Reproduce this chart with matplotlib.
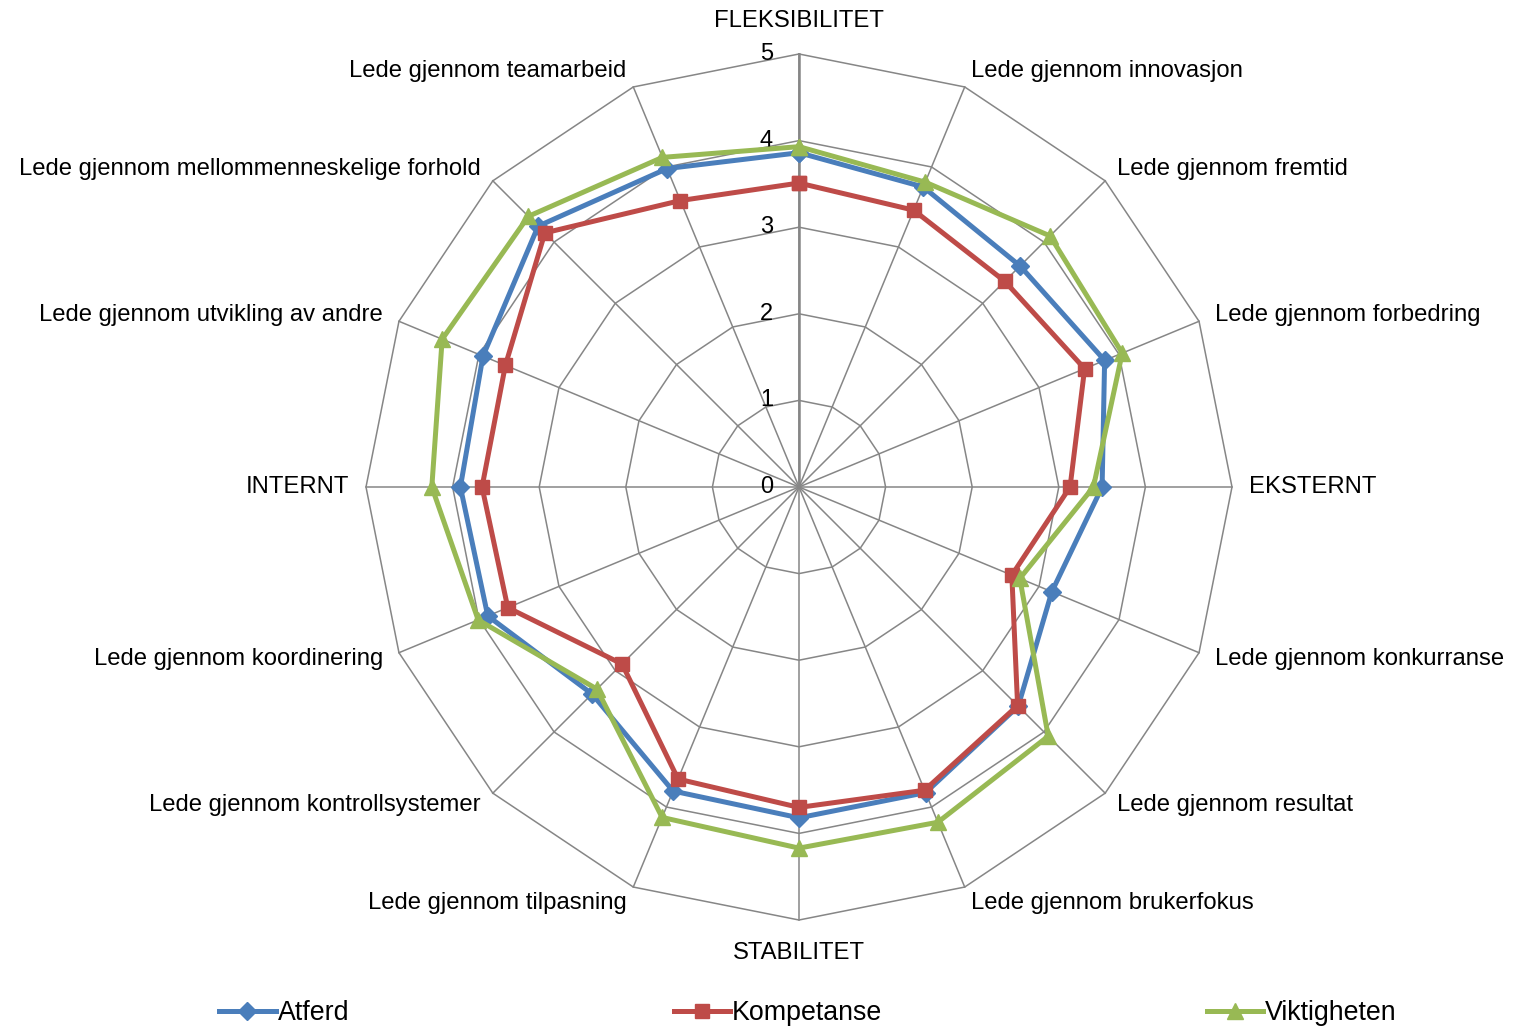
import numpy as np
import matplotlib.pyplot as plt

categories = ["FLEKSIBILITET", "Lede gjennom innovasjon", "Lede gjennom fremtid",
              "Lede gjennom forbedring", "EKSTERNT", "Lede gjennom konkurranse",
              "Lede gjennom resultat", "Lede gjennom brukerfokus", "STABILITET",
              "Lede gjennom tilpasning", "Lede gjennom kontrollsystemer",
              "Lede gjennom koordinering", "INTERNT", "Lede gjennom utvikling av andre",
              "Lede gjennom mellommenneskelige forhold", "Lede gjennom teamarbeid"]

atferd = [3.86, 3.75, 3.61, 3.82, 3.50, 3.16, 3.58, 3.82,
          3.82, 3.80, 3.38, 3.89, 3.91, 3.95, 4.26, 3.98]
kompetanse = [3.51, 3.46, 3.36, 3.57, 3.13, 2.66, 3.57, 3.79,
              3.70, 3.65, 2.89, 3.64, 3.66, 3.67, 4.15, 3.58]
viktigheten = [3.93, 3.81, 4.10, 4.04, 3.40, 2.76, 4.07, 4.19,
               4.17, 4.13, 3.30, 4.01, 4.24, 4.46, 4.42, 4.12]

ticks = [0, 1, 2, 3, 4, 5]

plt.rcParams['font.family'] = ['Liberation Sans', 'DejaVu Sans']

n = len(categories)
ang = np.arange(n) * 2 * np.pi / n   # clockwise from top
sx, cy = np.sin(ang), np.cos(ang)

W, H, dpi = 1513, 1028, 100
fig = plt.figure(figsize=(W / dpi, H / dpi), dpi=dpi)
ax = fig.add_axes([0, 0, 1, 1])
unit = 86.6  # pixels per value unit
cx0, cy0 = 799, 487
ax.set_xlim(-cx0 / unit, (W - cx0) / unit)
ax.set_ylim(-(H - cy0) / unit, cy0 / unit)
ax.set_aspect('equal')
ax.axis('off')

grid = '#868686'
# polygon rings
for t in ticks[1:]:
    xs = np.append(t * sx, t * sx[0])
    ys = np.append(t * cy, t * cy[0])
    ax.plot(xs, ys, color=grid, lw=1.1, zorder=1)
# spokes
for i in range(n):
    ax.plot([0, 5 * sx[i]], [0, 5 * cy[i]], color=grid, lw=1.1, zorder=1)
ax.plot([0, 0], [0, 5], color=grid, lw=1.8, zorder=1)

for t in ticks:
    ax.text(-0.3, t, str(t), ha='right', va='center', fontsize=17)

for i, lab in enumerate(categories):
    r = 5.38 if abs(sx[i]) < 0.01 else 5.2
    ha = 'center' if abs(sx[i]) < 0.01 else ('left' if sx[i] > 0 else 'right')
    ax.text(r * sx[i], r * cy[i], lab, ha=ha, va='center', fontsize=17.2)

series = [("Atferd", atferd, '#4A7EBB', 'D', 9),
          ("Kompetanse", kompetanse, '#BE4B48', 's', 10),
          ("Viktigheten", viktigheten, '#98B954', '^', 11)]
for name, vals, col, mk, ms in series:
    v = np.array(vals + vals[:1])
    xs = v * np.append(sx, sx[0])
    ys = v * np.append(cy, cy[0])
    ax.plot(xs, ys, color=col, lw=3.6, marker=mk, ms=ms, mfc=col, mec=col,
            label=name, zorder=3)

ax.legend(loc='center', bbox_to_anchor=(0.534, 0.0146), ncol=3, frameon=False,
          fontsize=19.3, handlelength=2.1, handletextpad=0.08, columnspacing=12.1,
          borderpad=0, borderaxespad=0)

fig.savefig('out.png', dpi=dpi)
